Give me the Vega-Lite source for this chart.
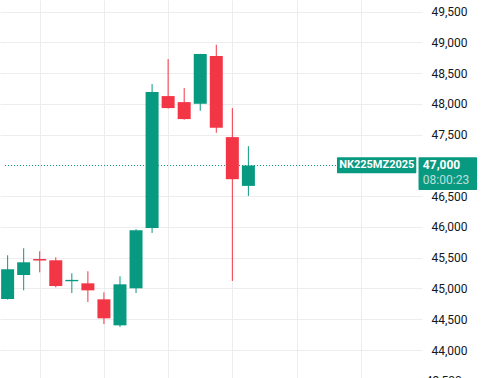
{
  "$schema": "https://vega.github.io/schema/vega-lite/v6.json",
  "autosize": {"type": "none"},
  "width": 422,
  "height": 378,
  "padding": {"left": 0, "top": 0, "bottom": 0, "right": 64},
  "background": "#ffffff",
  "config": {"view": {"stroke": null}},
  "datasets": {
    "candles": [
      {"i": 0, "o": 44829, "h": 45540, "l": 44820, "c": 45312},
      {"i": 1, "o": 45219, "h": 45654, "l": 44970, "c": 45426},
      {"i": 2, "o": 45480, "h": 45605, "l": 45263, "c": 45455},
      {"i": 3, "o": 45459, "h": 45507, "l": 45019, "c": 45040},
      {"i": 4, "o": 45118, "h": 45247, "l": 44926, "c": 45140},
      {"i": 5, "o": 45084, "h": 45280, "l": 44780, "c": 44970},
      {"i": 6, "o": 44824, "h": 44938, "l": 44422, "c": 44515},
      {"i": 7, "o": 44401, "h": 45198, "l": 44373, "c": 45068},
      {"i": 8, "o": 45003, "h": 45963, "l": 44926, "c": 45947},
      {"i": 9, "o": 45984, "h": 48323, "l": 45903, "c": 48193},
      {"i": 10, "o": 48128, "h": 48730, "l": 47925, "c": 47933},
      {"i": 11, "o": 48030, "h": 48258, "l": 47745, "c": 47754},
      {"i": 12, "o": 48003, "h": 48815, "l": 47889, "c": 48812},
      {"i": 13, "o": 48779, "h": 48963, "l": 47531, "c": 47612},
      {"i": 14, "o": 47461, "h": 47933, "l": 45122, "c": 46777},
      {"i": 15, "o": 46668, "h": 47314, "l": 46505, "c": 47000}
    ],
    "priceline": [{"x1": -0.164, "x2": 20.5, "p": 47000}],
    "boxes": [
      {"x1": 20.52, "x2": 25.46, "y1": 47133, "y2": 46873},
      {"x1": 25.6, "x2": 29.25, "y1": 47133, "y2": 46600}
    ],
    "namelabel": [{"x": 23.0, "y": 47003, "t": "NK225MZ2025"}],
    "pricelabel": [{"x": 25.87, "y": 47013, "t": "47,000"}],
    "timelabel": [{"x": 25.87, "y": 46762, "t": "08:00:23"}],
    "edgelabel": [{"x": 26.05, "y": 43500, "t": "43,500"}]
  },
  "layer": [
    {
      "data": {"name": "priceline"},
      "mark": {"type": "rule", "color": "#089981", "strokeWidth": 1, "strokeDash": [1, 2]},
      "encoding": {
        "x": {"field": "x1", "type": "quantitative",
              "scale": {"domain": [-0.164, 25.505], "nice": false, "zero": false},
              "axis": {"values": [2, 6, 10, 14, 18, 22], "tickCount": 20, "labels": false, "ticks": false, "domain": false, "title": null, "grid": true, "gridColor": "#ededed", "gridWidth": 1}},
        "x2": {"field": "x2"},
        "y": {"field": "p", "type": "quantitative",
              "scale": {"domain": [43545, 49690], "nice": false, "zero": false},
              "axis": {"orient": "right", "values": [44000, 44500, 45000, 45500, 46000, 46500, 47500, 48000, 48500, 49000, 49500],
                       "tickCount": 30,
                       "format": ",.0f", "title": null, "domain": false, "ticks": false, "labelPadding": 9,
                       "labelFont": "Roboto", "labelFontSize": 12, "labelColor": "#131722",
                       "grid": true, "gridColor": "#ededed", "gridWidth": 1, "labelBound": false, "labelOverlap": false}}
      }
    },
    {
      "data": {"name": "candles"},
      "mark": {"type": "rule", "strokeWidth": 1, "clip": true},
      "encoding": {
        "x": {"field": "i", "type": "quantitative"},
        "y": {"field": "l", "type": "quantitative"},
        "y2": {"field": "h"},
        "color": {"condition": {"test": "datum.c >= datum.o", "value": "#089981"}, "value": "#F23645"}
      }
    },
    {
      "data": {"name": "candles"},
      "mark": {"type": "bar", "size": 13, "clip": true},
      "encoding": {
        "x": {"field": "i", "type": "quantitative"},
        "y": {"field": "o", "type": "quantitative"},
        "y2": {"field": "c"},
        "color": {"condition": {"test": "datum.c >= datum.o", "value": "#089981"}, "value": "#F23645"}
      }
    },
    {
      "data": {"name": "boxes"},
      "mark": {"type": "rect", "color": "#089981", "cornerRadius": 1},
      "encoding": {
        "x": {"field": "x1", "type": "quantitative"},
        "x2": {"field": "x2"},
        "y": {"field": "y1", "type": "quantitative"},
        "y2": {"field": "y2"}
      }
    },
    {
      "data": {"name": "namelabel"},
      "mark": {"type": "text", "font": "Roboto", "baseline": "middle", "align": "center", "fontSize": 11, "fontWeight": "bold", "color": "#ffffff"},
      "encoding": {
        "x": {"field": "x", "type": "quantitative"},
        "y": {"field": "y", "type": "quantitative"},
        "text": {"field": "t"}
      }
    },
    {
      "data": {"name": "pricelabel"},
      "mark": {"type": "text", "font": "Roboto", "baseline": "middle", "align": "left", "fontSize": 12, "fontWeight": "bold", "color": "#ffffff"},
      "encoding": {
        "x": {"field": "x", "type": "quantitative"},
        "y": {"field": "y", "type": "quantitative"},
        "text": {"field": "t"}
      }
    },
    {
      "data": {"name": "timelabel"},
      "mark": {"type": "text", "font": "Roboto", "baseline": "middle", "align": "left", "fontSize": 12, "fontWeight": "normal", "color": "#ffffff", "opacity": 0.7},
      "encoding": {
        "x": {"field": "x", "type": "quantitative"},
        "y": {"field": "y", "type": "quantitative"},
        "text": {"field": "t"}
      }
    },
    {
      "data": {"name": "edgelabel"},
      "mark": {"type": "text", "font": "Roboto", "baseline": "middle", "align": "left", "fontSize": 12, "color": "#131722"},
      "encoding": {
        "x": {"field": "x", "type": "quantitative"},
        "y": {"field": "y", "type": "quantitative"},
        "text": {"field": "t"}
      }
    }
  ]
}
